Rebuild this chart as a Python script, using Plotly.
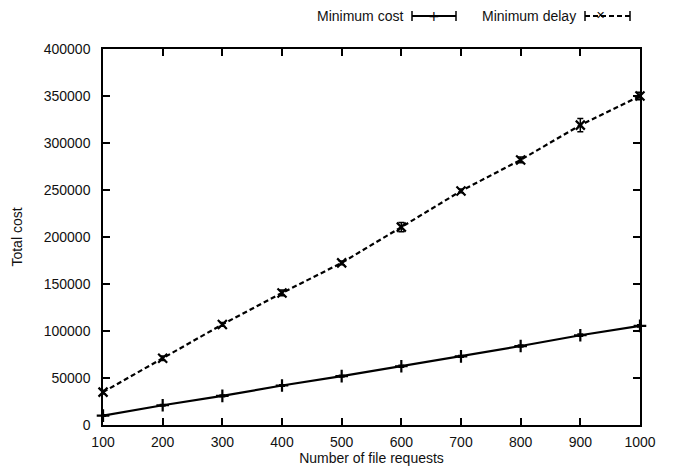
import plotly.graph_objects as go

requests = [100, 200, 300, 400, 500, 600, 700, 800, 900, 1000]
min_cost = [10000, 21000, 31000, 42000, 52000, 62500, 73000, 84000, 95500, 105500]
min_cost_err = [800, 800, 900, 900, 1000, 1000, 1000, 1000, 1200, 1200]
min_delay = [35000, 71000, 107000, 140500, 172500, 210500, 249000, 282000, 319000, 350000]
min_delay_err = [2000, 2500, 2000, 3000, 2000, 5000, 2000, 3000, 7000, 4000]

font = dict(family="Liberation Sans, Arial, sans-serif", size=14, color="#111")

fig = go.Figure()
fig.add_trace(go.Scatter(
    x=requests, y=min_cost, name="Minimum cost", mode="lines+markers",
    line=dict(color="black", width=2.2),
    marker=dict(symbol="cross-thin", size=9, line=dict(color="black", width=2.2)),
    error_y=dict(type="data", array=min_cost_err, color="black", thickness=1.5, width=3),
    showlegend=False, cliponaxis=False,
))
fig.add_trace(go.Scatter(
    x=requests, y=min_delay, name="Minimum delay", mode="lines+markers",
    line=dict(color="black", width=2.2, dash="5px,3px"),
    marker=dict(symbol="x-thin", size=9, line=dict(color="black", width=2.2)),
    error_y=dict(type="data", array=min_delay_err, color="black", thickness=1.5, width=3),
    showlegend=False, cliponaxis=False,
))

axis_common = dict(
    showline=True, linecolor="black", linewidth=1.5, mirror="ticks",
    ticks="inside", ticklen=7, tickcolor="black", tickwidth=1.5,
    showgrid=False, zeroline=False, tickfont=font, automargin=False,
    ticklabeloverflow="allow",
)
fig.update_xaxes(range=[99.95, 1000.05], tickvals=requests, ticktext=[str(v) for v in requests],
                 ticklabelstandoff=3,
                 title=dict(text="Number of file requests", font=font, standoff=5), **axis_common)
fig.update_yaxes(range=[0, 400000], dtick=50000, tickformat="d", ticklabelstandoff=8,
                 title=dict(text="Total cost", font=font, standoff=18), **axis_common)

# The page body has an 8px default margin; compensate so the frame lands where the reference has it.
OFF = 8
W, H = 678 - OFF, 471 - OFF
L, R, T, B = 103 - OFF, 640 - OFF, 49 - OFF, 425 - OFF

def px(xp):
    return (xp - OFF - L) / (R - L)

ly = 1 + (T - (16 - OFF)) / (B - T)
cap = 5 / (B - T)

annotations = []
for text, xr in (("Minimum cost", 405), ("Minimum delay", 578)):
    annotations.append(dict(x=px(xr), y=ly, xref="x domain", yref="paper", text=text,
                            showarrow=False, xanchor="right", yanchor="middle", font=font))
annotations.append(dict(x=px(434), y=ly, xref="x domain", yref="paper", text="+", showarrow=False,
                        font=dict(family="DejaVu Sans", size=14, color="black"), yanchor="middle"))
annotations.append(dict(x=px(607), y=ly, xref="x domain", yref="paper", text="✕", showarrow=False,
                        font=dict(family="DejaVu Sans", size=11, color="black"), yanchor="middle"))

shapes = []
shapes.append(dict(type="line", xref="x domain", yref="paper", x0=px(412), x1=px(456), y0=ly, y1=ly,
                   line=dict(color="black", width=2)))
for xp in (412, 456):
    shapes.append(dict(type="line", xref="x domain", yref="paper", x0=px(xp), x1=px(xp),
                       y0=ly - cap, y1=ly + cap, line=dict(color="black", width=1.5)))
shapes.append(dict(type="line", xref="x domain", yref="paper", x0=px(585), x1=px(630), y0=ly, y1=ly,
                   line=dict(color="black", width=2, dash="5px,3px")))
for xp in (585, 630):
    shapes.append(dict(type="line", xref="x domain", yref="paper", x0=px(xp), x1=px(xp),
                       y0=ly - cap, y1=ly + cap, line=dict(color="black", width=1.5)))

fig.update_layout(
    width=W, height=H,
    margin=dict(l=L, r=W - R, t=T, b=H - B, autoexpand=False),
    paper_bgcolor="white", plot_bgcolor="white",
    font=font, annotations=annotations, shapes=shapes,
)

fig.write_html("out.html")
